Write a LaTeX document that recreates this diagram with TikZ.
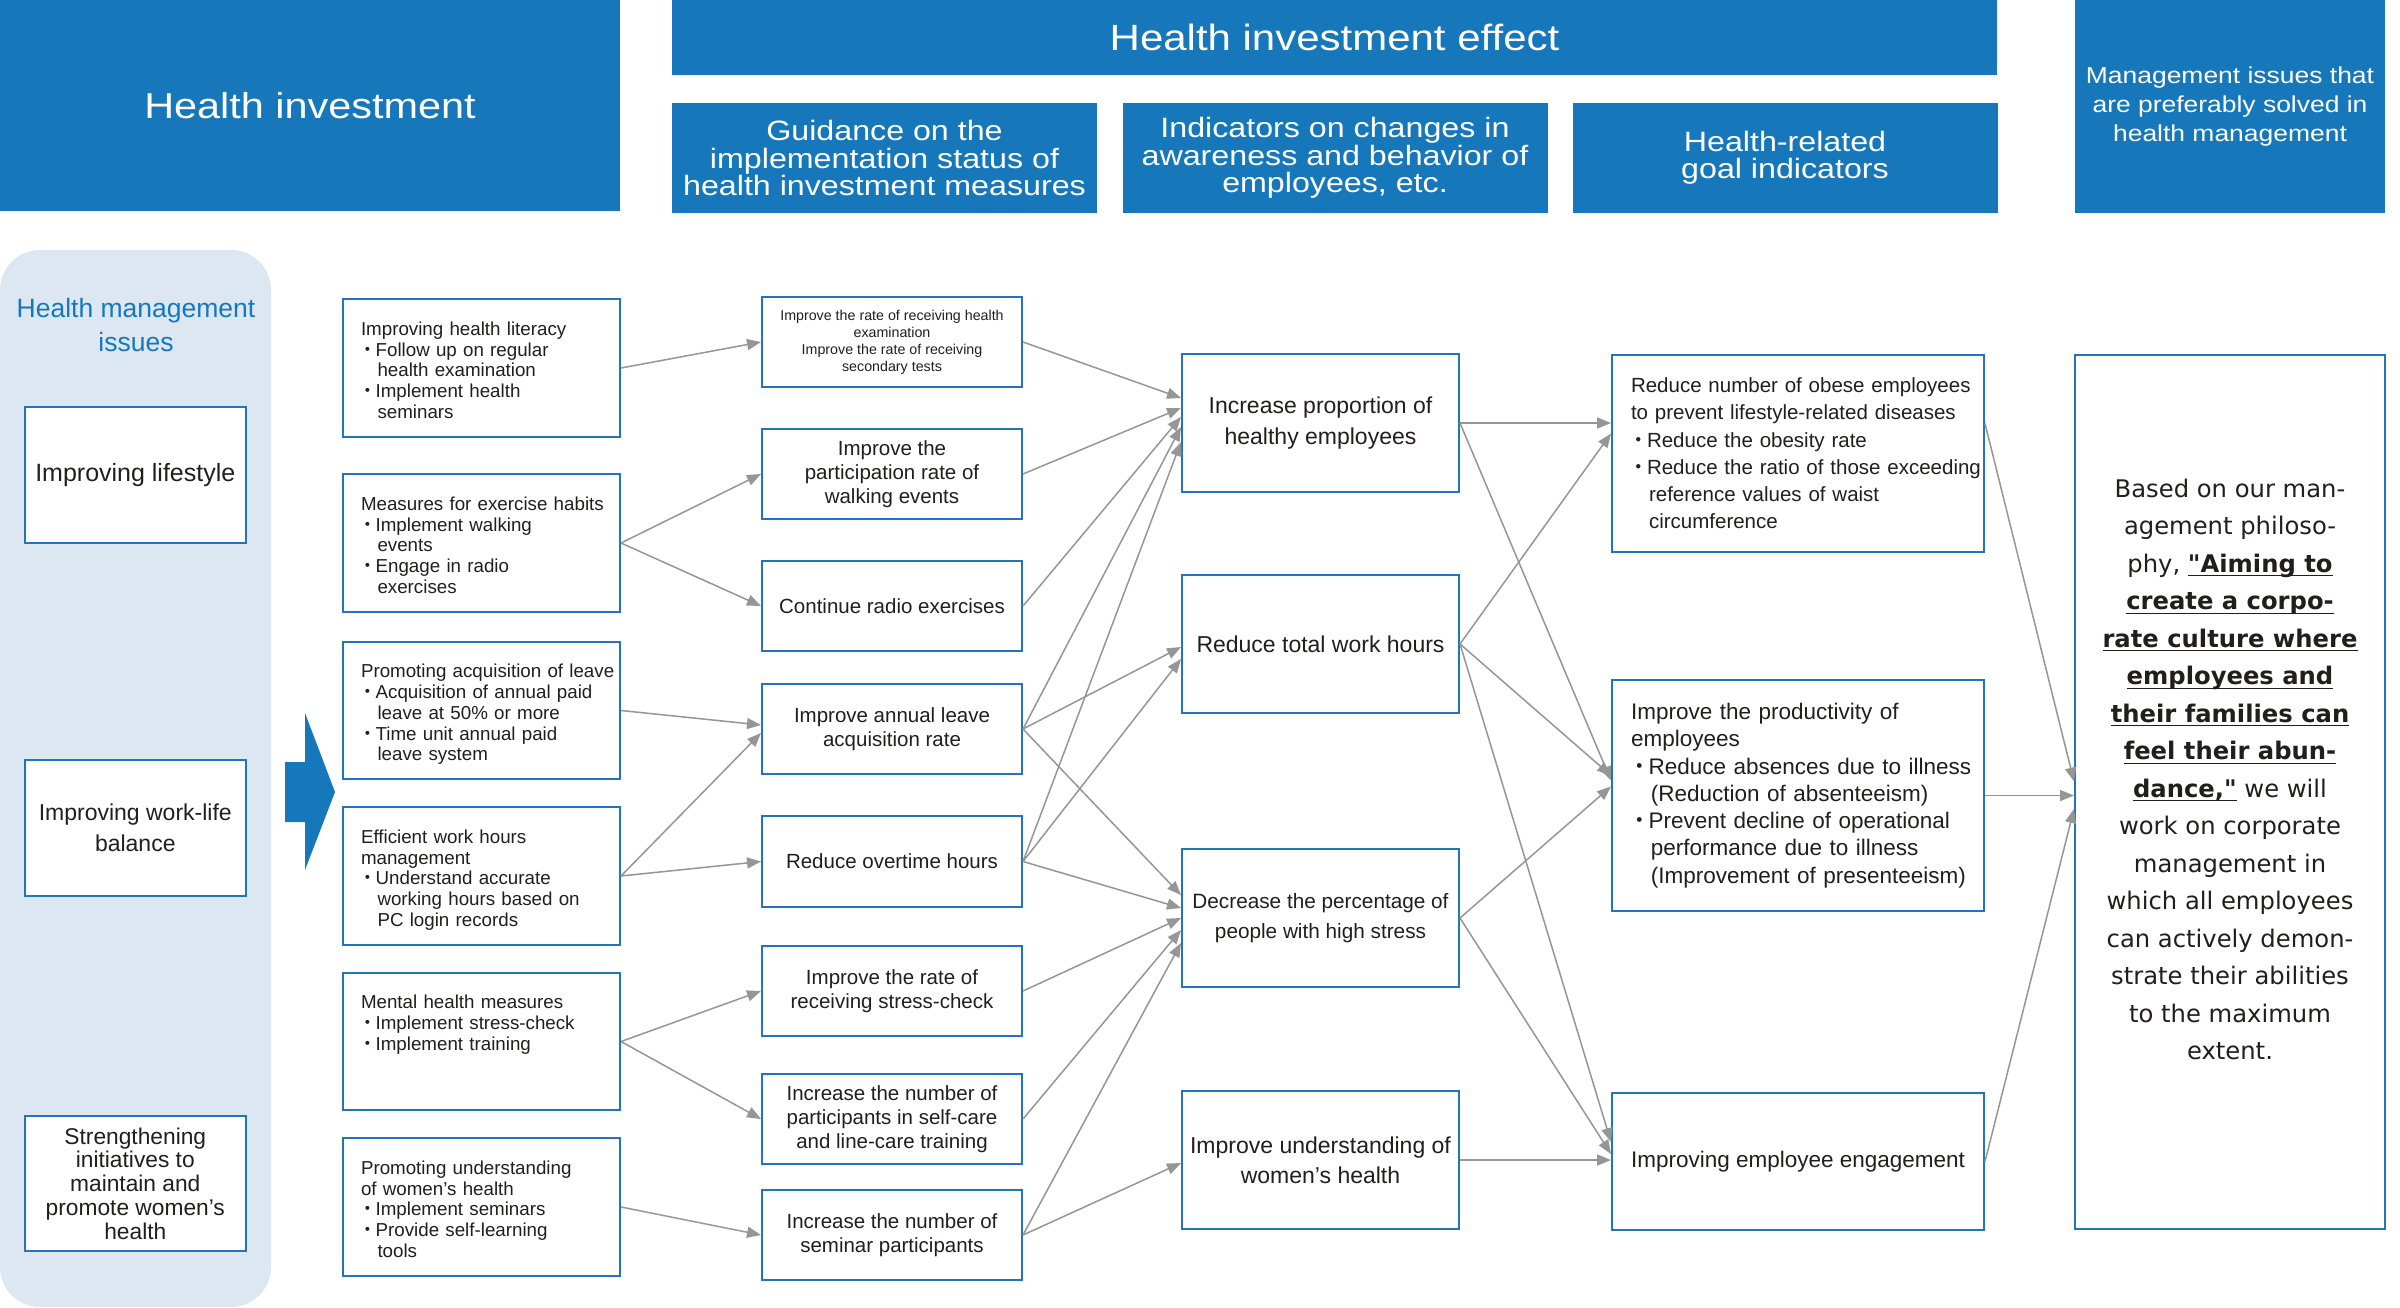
\documentclass[tikz,border=0pt]{standalone}
\usepackage{fontspec}
\setmainfont{Liberation Sans}
\newfontfamily\headfont[FakeStretch=1.15]{Liberation Sans}
\newfontfamily\widefont[Ligatures=TeXOff]{DejaVu Sans}
\newfontfamily\cjk{Noto Sans CJK JP}
\usetikzlibrary{arrows.meta,calc}
\definecolor{hdblue}{RGB}{22,120,187}
\definecolor{edge}{RGB}{36,116,186}
\definecolor{panel}{RGB}{221,231,241}
\definecolor{titleblue}{RGB}{20,120,190}
\definecolor{ink}{RGB}{35,30,30}
\definecolor{wire}{RGB}{150,150,150}
\newcommand\itm{\makebox[0.78em][c]{\cjk ・}}
\newcommand\ind{\hspace*{0.88em}}
\newcommand\ul[1]{\underline{\smash{#1}}}
\tikzset{
  >={Triangle[length=5.6pt,width=4.4pt]},
  head/.style={fill=hdblue,text=white,inner sep=0pt,align=center},
  box/.style={draw=edge,line width=0.8pt,fill=white,text=ink,inner sep=1.4pt},
  issuebox/.style={box,align=center,minimum width=88.6pt,minimum height=54.2pt},
  measurebox/.style={box,inner ysep=0pt,text width=108pt,align=left,
    text height=14.4pt,text depth=40.6pt,font=\fontsize{7.5}{8.3}\selectfont,
    execute at begin node={\leftskip=5.8pt\relax\hyphenpenalty=10000\relax}},
  guidebox/.style={box,align=center,minimum width=104pt,minimum height=36.2pt,
    font=\fontsize{8.2}{9.7}\selectfont},
  changebox/.style={box,align=center,minimum width=110.8pt,minimum height=55.2pt,
    font=\fontsize{9.2}{12.4}\selectfont},
  goalbox/.style={box,text width=146pt,align=left,
    execute at begin node={\leftskip=6.2pt\relax\hyphenpenalty=10000\relax}},
  flow/.style={->,draw=wire,line width=0.6pt},
}
\begin{document}
\begin{tikzpicture}[x=0.4pt,y=-0.4pt]
\useasboundingbox (0,0) rectangle (2400,1307);
\fill[white] (0,0) rectangle (2400,1307);
% headings
\node[head,minimum width=248pt,minimum height=84.4pt,font=\headfont\fontsize{14.4}{17}\selectfont] (invest) at (310,105.5) {Health investment};
\node[head,minimum width=530pt,minimum height=30pt,font=\headfont\fontsize{14.6}{17}\selectfont] (effect) at (1334.5,37.5) {Health investment effect};
\node[head,minimum width=170pt,minimum height=44pt,font=\headfont\fontsize{11.2}{11}\selectfont] (guidance) at (884.5,158) {Guidance on the\\implementation status of\\health investment measures};
\node[head,minimum width=170pt,minimum height=44pt,font=\headfont\fontsize{11.2}{11}\selectfont] (awareness) at (1335,158) {Indicators on changes in\\awareness and behavior of\\employees, etc.};
\node[head,minimum width=170pt,minimum height=44pt,font=\headfont\fontsize{11.2}{11}\selectfont] (goalhead) at (1785,158) {Health-related\\goal indicators};
\node[head,minimum width=124pt,minimum height=85.2pt,font=\headfont\fontsize{9.2}{11.6}\selectfont] (mgmt) at (2230,106.5) {Management issues that\\are preferably solved in\\health management};
% issues
\fill[panel,rounded corners=16pt] (0,250) rectangle (271,1307);
\node[text=titleblue,align=center,font=\fontsize{10.6}{13.8}\selectfont] (issues) at (136,325) {Health management\\issues};
\node[issuebox,font=\fontsize{10}{12}\selectfont] (lifestyle) at (135.3,475) {Improving lifestyle};
\node[issuebox,font=\fontsize{9.2}{12.2}\selectfont] (worklife) at (135.3,828) {Improving work-life\\balance};
\node[issuebox,font=\fontsize{9.1}{9.5}\selectfont] (women) at (135.3,1183.5) {Strengthening\\initiatives to\\maintain and\\promote women's\\health};
\fill[hdblue] (285,762) -- (305,762) -- (305,713) -- (335,792) -- (305,870) -- (305,822) -- (285,822) -- cycle;
% measures
\node[measurebox] (literacy) at (481.5,368) {Improving health literacy\\ \itm Follow up on regular\\ \ind health examination\\ \itm Implement health\\ \ind seminars};
\node[measurebox] (exercise) at (481.5,543) {Measures for exercise habits\\ \itm Implement walking\\ \ind events\\ \itm Engage in radio\\ \ind exercises};
\node[measurebox] (leave) at (481.5,710.5) {\mbox{Promoting acquisition of leave}\\ \itm Acquisition of annual paid\\ \ind leave at 50\% or more\\ \itm Time unit annual paid\\ \ind leave system};
\node[measurebox] (workhours) at (481.5,876) {Efficient work hours\\management\\ \itm Understand accurate\\ \ind working hours based on\\ \ind PC login records};
\node[measurebox] (mental) at (481.5,1041.5) {Mental health measures\\ \itm Implement stress-check\\ \itm Implement training};
\node[measurebox] (womenhealth) at (481.5,1207) {Promoting understanding\\of women's health\\ \itm Implement seminars\\ \itm Provide self-learning\\ \ind tools};
% guidance
\node[guidebox,font=\fontsize{5.7}{6.8}\selectfont] (checkup) at (892,342) {Improve the rate of receiving health\\examination\\Improve the rate of receiving\\secondary tests};
\node[guidebox] (walking) at (892,474) {Improve the\\participation rate of\\walking events};
\node[guidebox] (radio) at (892,606) {Continue radio exercises};
\node[guidebox] (annual) at (892,729) {Improve annual leave\\acquisition rate};
\node[guidebox] (overtime) at (892,861.5) {Reduce overtime hours};
\node[guidebox] (stresscheck) at (892,991) {Improve the rate of\\receiving stress-check};
\node[guidebox] (training) at (892,1119) {Increase the number of\\participants in self-care\\and line-care training};
\node[guidebox] (seminar) at (892,1235) {Increase the number of\\seminar participants};
% changes
\node[changebox] (healthy) at (1320.5,423) {Increase proportion of\\healthy employees};
\node[changebox] (workload) at (1320.5,644) {Reduce total work hours};
\node[changebox,font=\fontsize{8.3}{12}\selectfont] (stress) at (1320.5,918) {Decrease the percentage of\\people with high stress};
\node[changebox,font=\fontsize{9.2}{12}\selectfont] (understand) at (1320.5,1160) {Improve understanding of\\women's health};
% goals
\node[goalbox,minimum height=78.8pt,font=\fontsize{8.2}{10.9}\selectfont] (obesity) at (1798,453.5) {Reduce number of obese employees\\to prevent lifestyle-related diseases\\ \itm Reduce the obesity rate\\ \itm \mbox{Reduce the ratio of those exceeding}\\ \ind reference values of waist\\ \ind circumference};
\node[goalbox,minimum height=92.4pt,font=\fontsize{9}{10.9}\selectfont] (productivity) at (1798,795.5) {Improve the productivity of\\employees\\ \itm Reduce absences due to illness\\ \ind (Reduction of absenteeism)\\ \itm Prevent decline of operational\\ \ind performance due to illness\\ \ind (Improvement of presenteeism)};
\node[box,align=center,minimum width=148.8pt,minimum height=54.8pt,font=\fontsize{9}{11}\selectfont] (engage) at (1798,1161.5) {Improving employee engagement};
\node[box,align=center,minimum width=124pt,minimum height=349.6pt,font=\widefont\fontsize{9.7}{15}\selectfont] (philosophy) at (2230,792) {Based on our man-\\agement philoso-\\phy, \ul{\textbf{"Aiming to}}\\\ul{\textbf{create a corpo-}}\\\ul{\textbf{rate culture where}}\\\ul{\textbf{employees and}}\\\ul{\textbf{their families can}}\\\ul{\textbf{feel their abun-}}\\\ul{\textbf{dance,"}} we will\\work on corporate\\management in\\which all employees\\can actively demon-\\strate their abilities\\to the maximum\\extent.\\[3pt]\mbox{}};
% connectors
\foreach \a/\b/\d in {literacy/checkup/0,exercise/walking/0,exercise/radio/0,leave/annual/-4,workhours/annual/4,workhours/overtime/0,mental/stresscheck/0,mental/training/0,womenhealth/seminar/0}
  \draw[flow] (\a.east) -- ($(\b.west)+(0,\d)$);
\foreach \a/\b/\d in {checkup/healthy/-25,walking/healthy/-15,radio/healthy/-6,annual/healthy/4,overtime/healthy/19,annual/workload/3,overtime/workload/15,annual/stress/-23,overtime/stress/-10,stresscheck/stress/0,training/stress/12,seminar/stress/25,seminar/understand/3}
  \draw[flow] (\a.east) -- ($(\b.west)+(0,\d)$);
\draw[flow] (healthy.east) -- (healthy.east -| obesity.west);
\draw[flow] (understand.east) -- (understand.east -| engage.west);
\foreach \a/\b/\d in {workload/obesity/-20,healthy/productivity/-15,workload/productivity/-20,stress/productivity/-9,workload/engage/-19.5,stress/engage/-7.5}
  \draw[flow] (\a.east) -- ($(\b.west)+(0,\d)$);
\draw[flow] ($(obesity.east)+(0,-30)$) -- ($(philosophy.west)+(0,-10.5)$);
\draw[flow] (productivity.east) -- (productivity.east -| philosophy.west);
\draw[flow] (engage.east) -- ($(philosophy.west)+(0,17)$);
\end{tikzpicture}
\end{document}
